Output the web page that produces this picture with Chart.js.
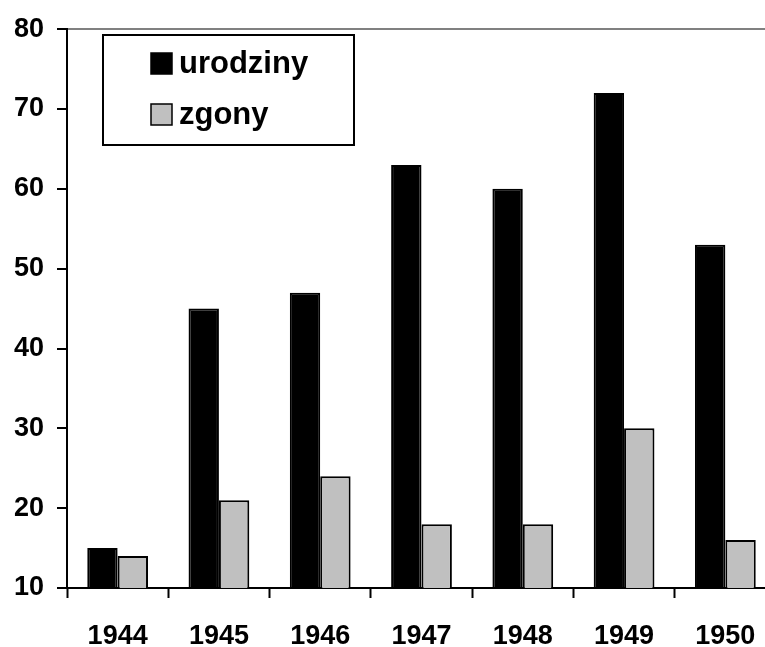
<!DOCTYPE html>
<html>
<head>
<meta charset="utf-8">
<script src="https://cdn.jsdelivr.net/npm/chart.js@4.4.0/dist/chart.umd.min.js"></script>
<style>
  html, body { margin: 0; padding: 0; background: #fff; overflow: hidden; }
  #wrap { width: 790px; height: 647px; }
</style>
</head>
<body>
<div id="wrap"><canvas id="barChart" width="790" height="647"></canvas></div>
<script>
const years = ['1944', '1945', '1946', '1947', '1948', '1949', '1950'];
const urodziny = [15, 45, 47, 63, 60, 72, 53];
const zgony = [14, 21, 24, 18, 18, 30, 16];
const seriesNames = ['urodziny', 'zgony'];
const seriesColors = ['#000000', '#c0c0c0'];

const FONT = '"Liberation Sans", Arial, sans-serif';

// Legend drawn as a bordered box inside the plot
const boxLegend = {
    id: 'boxLegend',
    afterDraw(chart) {
        const ctx = chart.ctx;
        ctx.save();
        ctx.lineWidth = 2;
        ctx.strokeStyle = '#000';
        ctx.fillStyle = '#fff';
        ctx.fillRect(103, 35, 251, 110);
        ctx.strokeRect(103, 35, 251, 110);
        ctx.font = 'bold 31px ' + FONT;
        ctx.textBaseline = 'middle';
        chart.data.datasets.forEach((ds, i) => {
            const y = 63 + i * 51;
            ctx.fillStyle = ds.backgroundColor;
            ctx.fillRect(151, y - 10, 21, 21);
            ctx.lineWidth = 1.5;
            ctx.strokeRect(151, y - 10, 21, 21);
            ctx.fillStyle = '#000';
            ctx.fillText(ds.label, 179, y + 1);
        });
        ctx.restore();
    }
};

new Chart(document.getElementById('barChart'), {
    type: 'bar',
    data: {
        labels: years,
        datasets: [
            { label: seriesNames[0], data: urodziny, backgroundColor: seriesColors[0], borderColor: '#000', borderWidth: 2 },
            { label: seriesNames[1], data: zgony, backgroundColor: seriesColors[1], borderColor: '#000', borderWidth: 2 }
        ]
    },
    options: {
        responsive: false, animation: false,
        layout: { padding: { top: 24, right: 14, left: 0, bottom: 0 } },
        datasets: { bar: { categoryPercentage: 0.6, barPercentage: 1.0 } },
        scales: {
            x: {
                offset: true,
                grid: { offset: true, drawOnChartArea: false, tickLength: 10, tickColor: '#000', tickWidth: 2 },
                border: { color: '#000', width: 2 },
                ticks: { color: '#000', padding: 22, font: { family: FONT, size: 27, weight: 'bold' } },
                afterFit(scale) { scale.height = 59; }
            },
            y: {
                min: 10, max: 80,
                ticks: { stepSize: 10, color: '#000', padding: 13, font: { family: FONT, size: 27, weight: 'bold' } },
                grid: {
                    color: c => c.tick && c.tick.value === 80 ? '#808080' : 'rgba(0,0,0,0)',
                    lineWidth: 2, tickLength: 10, tickColor: '#000', tickWidth: 2
                },
                border: { color: '#000', width: 2 },
                afterFit(scale) { scale.width = 67; }
            }
        },
        plugins: { legend: { display: false }, tooltip: { enabled: false } }
    },
    plugins: [boxLegend]
});
</script>
</body>
</html>
